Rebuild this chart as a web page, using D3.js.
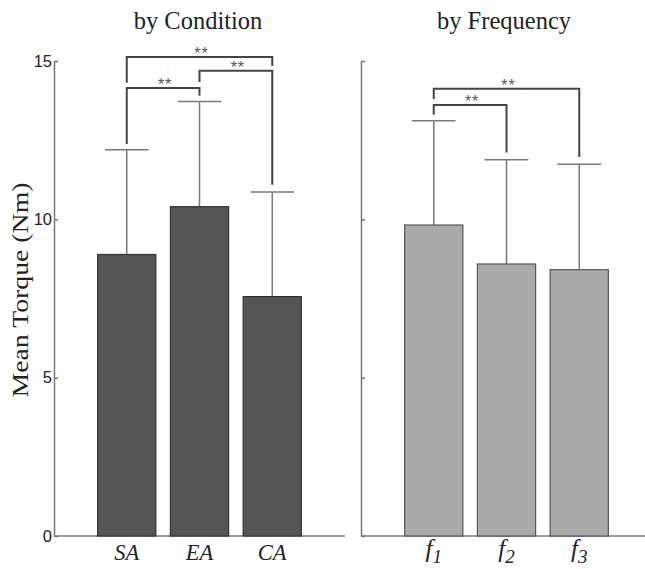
<!DOCTYPE html>
<html>
<head>
<meta charset="utf-8">
<script src="https://cdn.jsdelivr.net/npm/d3@7"></script>
<style>
  html, body { margin: 0; padding: 0; background: #fff; }
  svg { display: block; }
</style>
</head>
<body>
<svg id="chart" width="645" height="569"></svg>
<script>
// Mean torque by condition
const conditions = ["SA", "EA", "CA"];
const conditionMeans = [8.89, 10.40, 7.56];
const conditionSD = [3.31, 3.32, 3.30];

// Mean torque by frequency (subscript index shown under each bar)
const frequencies = ["1", "2", "3"];
const frequencyMeans = [9.82, 8.59, 8.41];
const frequencySD = [3.29, 3.29, 3.33];

// Significance brackets: bar indices, bracket height, leg end values
const conditionBrackets = [
  { a: 0, b: 1, top: 14.15, endA: 12.38, endB: 13.90, label: "**" },
  { a: 0, b: 2, top: 15.13, endA: 14.31, endB: 14.84, label: "**" },
  { a: 1, b: 2, top: 14.69, endA: 14.34, endB: 11.09, label: "**" }
];
const frequencyBrackets = [
  { a: 0, b: 2, top: 14.12, endA: 13.80, endB: 11.97, label: "**" },
  { a: 0, b: 1, top: 13.61, endA: 13.30, endB: 12.11, label: "**" }
];

const yTicks = [0, 5, 10, 15];

const svg = d3.select("#chart");

const y = d3.scaleLinear().domain([0, 15]).range([536, 61]);

function drawPanel(opts) {
  const x = d3.scaleLinear().domain([0, 4]).range(opts.xRange);
  const g = svg.append("g");

  // y axis with inward ticks
  const yAxis = d3.axisLeft(y)
    .tickValues(yTicks)
    .tickSizeInner(-4)
    .tickSizeOuter(0)
    .tickPadding(opts.showLabels ? 2 : 0)
    .tickFormat(opts.showLabels ? d3.format("d") : () => "");
  const ya = g.append("g")
    .attr("transform", `translate(${opts.xRange[0]},0)`)
    .call(yAxis);
  ya.select(".domain").attr("stroke", "#777").attr("stroke-width", 1.5);
  ya.selectAll(".tick line").attr("stroke", "#777").attr("stroke-width", 1.5);
  ya.selectAll(".tick text")
    .attr("font-family", "Liberation Sans, Arial, sans-serif")
    .attr("font-size", 16.5)
    .attr("fill", "#222");

  // x axis baseline
  g.append("line")
    .attr("x1", x(0)).attr("x2", x(4))
    .attr("y1", y(0)).attr("y2", y(0))
    .attr("stroke", "#777").attr("stroke-width", 1.5);

  const idx = d3.range(opts.means.length);

  // error bars (upper only)
  const eb = g.append("g").attr("stroke", "#7a7a7a").attr("stroke-width", 1.5);
  eb.selectAll("line.v").data(idx).join("line")
    .attr("class", "v")
    .attr("x1", i => x(i + 1)).attr("x2", i => x(i + 1))
    .attr("y1", i => y(opts.means[i])).attr("y2", i => y(opts.means[i] + opts.sd[i]));
  eb.selectAll("line.cap").data(idx).join("line")
    .attr("class", "cap")
    .attr("x1", i => x(i + 1 - 0.3)).attr("x2", i => x(i + 1 + 0.3))
    .attr("y1", i => y(opts.means[i] + opts.sd[i])).attr("y2", i => y(opts.means[i] + opts.sd[i]));

  // bars
  g.selectAll("rect.bar").data(idx).join("rect")
    .attr("class", "bar")
    .attr("x", i => x(i + 1 - 0.4))
    .attr("width", x(0.8) - x(0))
    .attr("y", i => y(opts.means[i]))
    .attr("height", i => y(0) - y(opts.means[i]))
    .attr("fill", opts.fill)
    .attr("stroke", opts.stroke)
    .attr("stroke-width", 1.2);

  // significance brackets
  const br = g.append("g");
  opts.brackets.forEach(b => {
    const xa = x(b.a + 1), xb = x(b.b + 1);
    br.append("path")
      .attr("d", `M${xa},${y(b.endA)}V${y(b.top)}H${xb}V${y(b.endB)}`)
      .attr("fill", "none")
      .attr("stroke", "#444")
      .attr("stroke-width", 2);
    br.append("text")
      .attr("x", (xa + xb) / 2 + 2)
      .attr("y", y(b.top) + 2)
      .attr("text-anchor", "middle")
      .attr("font-family", "Liberation Sans, Arial, sans-serif")
      .attr("font-size", 16)
      .attr("fill", "#555")
      .attr("letter-spacing", 1)
      .text(b.label);
  });

  // category labels
  const lab = g.selectAll("text.cat").data(idx).join("text")
    .attr("class", "cat")
    .attr("x", i => x(i + 1))
    .attr("y", 560)
    .attr("text-anchor", "middle")
    .attr("font-family", "Liberation Serif, Times New Roman, serif")
    .attr("font-style", "italic")
    .attr("font-size", 22.5)
    .attr("fill", "#222");
  if (opts.subscript) {
    lab.each(function (i) {
      const t = d3.select(this);
      t.attr("y", 557);
      t.append("tspan").attr("font-size", 25).text("f");
      t.append("tspan").attr("font-size", 19).attr("dy", 6).text(opts.categories[i]);
    });
  } else {
    lab.text(i => opts.categories[i]);
  }

  // panel title
  g.append("text")
    .attr("x", opts.titleX)
    .attr("y", 29)
    .attr("text-anchor", "middle")
    .attr("font-family", "Liberation Serif, Times New Roman, serif")
    .attr("font-size", 24.5)
    .attr("fill", "#222")
    .text(opts.title);
}

drawPanel({
  xRange: [54, 345],
  means: conditionMeans,
  sd: conditionSD,
  categories: conditions,
  brackets: conditionBrackets,
  fill: "#555555",
  stroke: "#333",
  showLabels: true,
  subscript: false,
  title: "by Condition",
  titleX: 198
});

drawPanel({
  xRange: [361, 652],
  means: frequencyMeans,
  sd: frequencySD,
  categories: frequencies,
  brackets: frequencyBrackets,
  fill: "#aaaaaa",
  stroke: "#555",
  showLabels: false,
  subscript: true,
  title: "by Frequency",
  titleX: 504
});

// shared y-axis title
svg.append("text")
  .attr("transform", "translate(28,290) rotate(-90)")
  .attr("text-anchor", "middle")
  .attr("font-family", "Liberation Serif, Times New Roman, serif")
  .attr("font-size", 23)
  .attr("textLength", 215)
  .attr("lengthAdjust", "spacingAndGlyphs")
  .attr("fill", "#222")
  .text("Mean Torque (Nm)");
</script>
</body>
</html>
